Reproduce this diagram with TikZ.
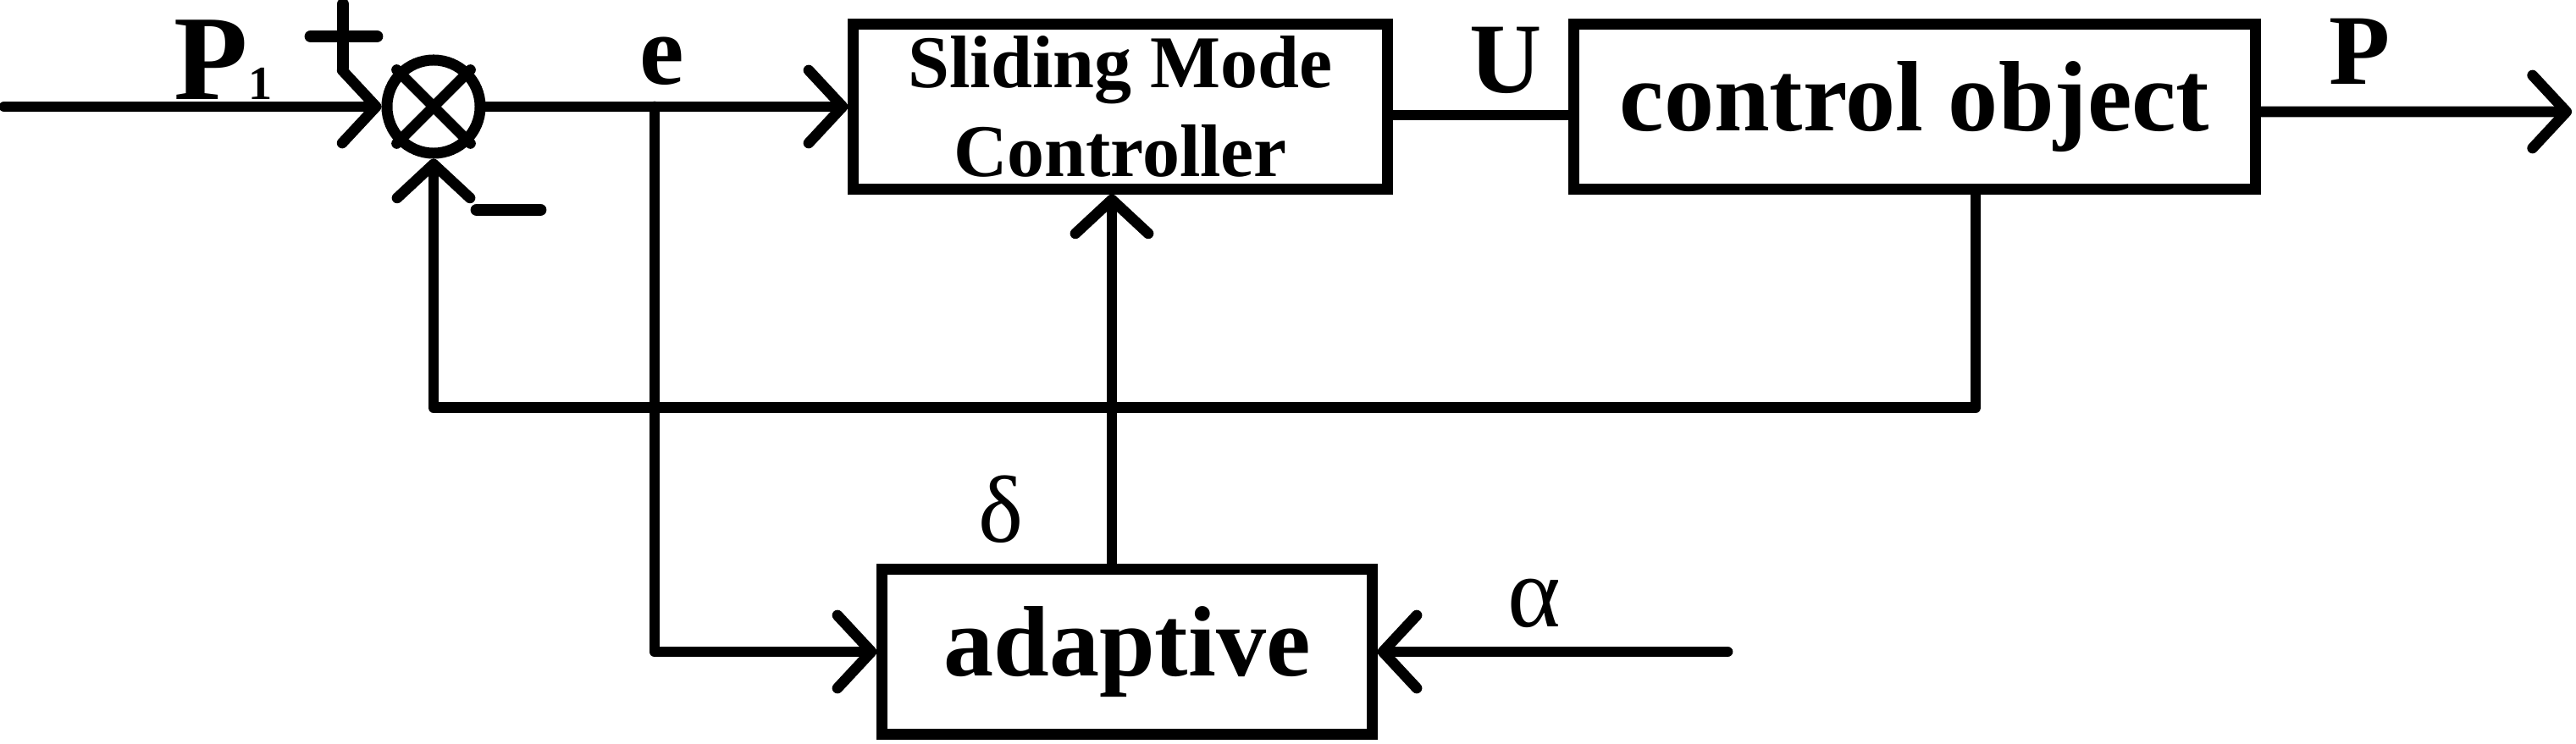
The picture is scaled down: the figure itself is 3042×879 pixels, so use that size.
\documentclass[tikz,border=0pt]{standalone}
\usepackage{fontspec}
\setmainfont{Liberation Serif}
\usetikzlibrary{arrows.meta}
\begin{document}
\begin{tikzpicture}[x=0.01cm,y=-0.01cm,
  wire/.style={line width=3.6pt, line cap=round, line join=round},
  arr/.style={wire, -{Straight Barb[length=0.4cm,width=0.86cm,round]}},
  blk/.style={draw, line width=3.7pt, inner sep=0pt},
  big/.style={font=\fontsize{33.6}{40}\selectfont\bfseries},
  sign/.style={line width=4.2pt, line cap=round},
  lbl/.style={anchor=base, inner sep=0pt},
]
\useasboundingbox (0,0) rectangle (3042,879);

% blocks
\node[blk, circle, minimum size=1.1cm] (sum) at (512,126) {};
\draw[wire] (sum.45) -- (sum.225) (sum.135) -- (sum.315);
\node[blk, minimum width=6.3cm, minimum height=1.94cm, align=center,
      font=\fontsize{25}{30}\selectfont\bfseries] (smc) at (1323,126) {Sliding Mode\\Controller};
\node[blk, minimum width=8.05cm, minimum height=1.94cm, big] (co) at (2261,126) {control object};
\node[blk, minimum width=5.78cm, minimum height=1.95cm, big] (ad) at (1331,770) {adaptive};

% free ends
\coordinate (in) at (5,126);
\coordinate (ej) at (773,126);
\coordinate (out) at (3037,132);
\coordinate (al) at (2040,770);
\coordinate (dl) at ([xshift=-0.18cm]ad.north);
\coordinate (fb) at ([xshift=0.72cm]co.south);

% connectors
\draw[arr] (in) -- (sum.west);
\draw[arr] (sum.east) -- (smc.west);
\draw[arr] (ej) |- (ad.west);
\draw[wire] ([yshift=-0.1cm]smc.east) -- ([yshift=-0.1cm]co.west);
\draw[arr] ([yshift=-0.06cm]co.east) -- (out);
\draw[arr] (fb) -- ++(0,252) -| (sum.south);
\draw[arr] (dl) -- (dl |- smc.south);
\draw[arr] (al) -- (ad.east);

% signs
\draw[sign] (367,43) -- (445,43) (405,5) -- (405,80);
\draw[sign] (563,248) -- (638,248);

% labels
\node[anchor=base west, inner sep=0pt, font=\fontsize{40.7}{48}\selectfont\bfseries] (p1) at (205,118) {P\fontsize{16}{18}\selectfont 1};
\node[lbl, font=\fontsize{33.6}{40}\selectfont\bfseries] (el) at (782,100) {e};
\node[lbl, font=\fontsize{33.6}{40}\selectfont\bfseries] (ul) at (1778,110) {U};
\node[lbl, font=\fontsize{33.6}{40}\selectfont\bfseries] (pl) at (2787,100) {P};
\node[lbl, font=\fontsize{32}{38}\selectfont] (dlab) at (1182,640) {δ};
\node[lbl, font=\fontsize{34}{40}\selectfont] (alab) at (1812,740) {α};
\end{tikzpicture}
\end{document}
